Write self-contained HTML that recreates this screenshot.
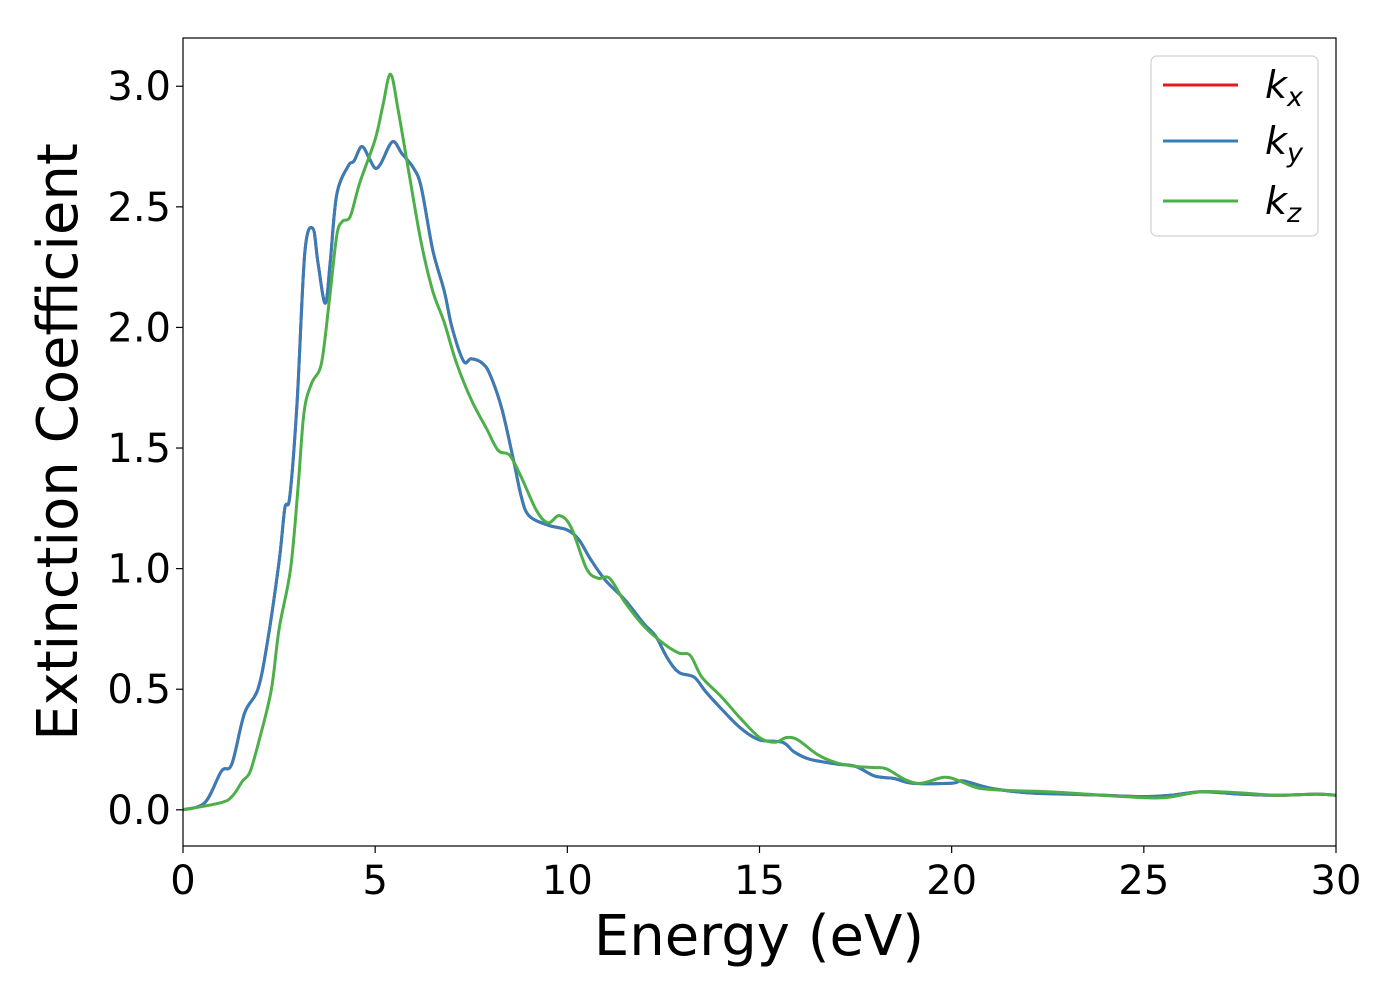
<!DOCTYPE html>
<html><head><meta charset="utf-8"><style>
html,body{margin:0;padding:0;background:#fff;}
svg{display:block;font-family:"DejaVu Sans","Liberation Sans",sans-serif;}
</style></head><body>
<svg id="chart" width="1400" height="1000" viewBox="0 0 1400 1000" xmlns="http://www.w3.org/2000/svg">
<rect width="1400" height="1000" fill="#fff"/>
<g id="series"></g>
<rect x="183" y="38" width="1153" height="808" fill="none" stroke="#000" stroke-width="1.2"/>
<g id="xticks"></g>
<g id="yticks"></g>
<text x="759" y="955" font-size="56" text-anchor="middle">Energy (eV)</text>
<text transform="translate(77,442) rotate(-90)" font-size="56" text-anchor="middle">Extinction Coefficient</text>
<g>
<rect x="1151" y="56" width="167" height="180" rx="6" fill="#fff" fill-opacity="0.8" stroke="#d0d0d0" stroke-width="1.2"/>
<line x1="1163" y1="85" x2="1238" y2="85" stroke="#e41a1c" stroke-width="3"/>
<text x="1265" y="98" font-size="38" font-style="italic">k<tspan font-size="27" dy="8">x</tspan></text>
<line x1="1163" y1="141" x2="1238" y2="141" stroke="#377eb8" stroke-width="3"/>
<text x="1265" y="154" font-size="38" font-style="italic">k<tspan font-size="27" dy="8">y</tspan></text>
<line x1="1163" y1="201" x2="1238" y2="201" stroke="#4daf4a" stroke-width="3"/>
<text x="1265" y="214" font-size="38" font-style="italic">k<tspan font-size="27" dy="8">z</tspan></text>
</g>
</svg>
<script>
const xTicks=[0,5,10,15,20,25,30];
const yTicks=[0.0,0.5,1.0,1.5,2.0,2.5,3.0];
const energyXY=[0,0.57,1.0,1.27,1.6,1.95,2.2,2.5,2.65,2.78,2.97,3.17,3.38,3.51,3.7,3.83,4.0,4.3,4.45,4.65,4.85,5.0,5.15,5.45,5.7,6.0,6.2,6.5,6.8,7.0,7.3,7.5,7.8,8.0,8.3,8.6,8.8,9.0,9.5,10.0,10.3,10.6,11.0,11.5,12.0,12.3,12.6,12.9,13.3,13.6,14.0,14.5,15.0,15.6,15.9,16.3,17.0,17.5,18.0,18.5,19.0,20.0,20.3,21.0,22,23,24,25,25.7,26.5,27.5,28.5,29.5,30];
const kxValues=[0,0.03,0.16,0.19,0.40,0.5,0.7,1.03,1.25,1.30,1.69,2.31,2.41,2.27,2.1,2.27,2.55,2.67,2.69,2.75,2.70,2.66,2.68,2.77,2.72,2.66,2.58,2.32,2.15,2.0,1.86,1.87,1.85,1.80,1.66,1.45,1.30,1.22,1.18,1.16,1.12,1.04,0.95,0.87,0.77,0.72,0.63,0.57,0.55,0.49,0.42,0.34,0.29,0.28,0.24,0.21,0.19,0.18,0.14,0.13,0.11,0.11,0.12,0.09,0.07,0.065,0.06,0.055,0.06,0.075,0.065,0.06,0.065,0.06];
const kyValues=kxValues.slice();
const energyZ=[0,1.0,1.3,1.55,1.75,2.0,2.3,2.5,2.8,3.0,3.15,3.35,3.6,3.8,4.0,4.15,4.35,4.6,5.0,5.2,5.4,5.6,5.9,6.2,6.5,6.8,7.1,7.5,7.9,8.2,8.5,8.8,9.2,9.5,9.8,10.1,10.5,10.8,11.1,11.5,12.0,12.5,12.9,13.2,13.5,14.0,14.5,15.0,15.4,15.7,16.0,16.5,17.0,17.5,18.0,18.3,18.8,19.2,19.8,20.2,20.7,21.5,22.5,23.5,24.5,25.5,26.5,27.5,28.5,29.5,30];
const kzValues=[0,0.03,0.06,0.12,0.16,0.3,0.5,0.75,1.0,1.35,1.65,1.77,1.85,2.1,2.38,2.44,2.46,2.6,2.78,2.92,3.05,2.9,2.62,2.35,2.15,2.02,1.86,1.70,1.58,1.49,1.47,1.38,1.24,1.19,1.22,1.17,1.00,0.96,0.96,0.86,0.76,0.69,0.65,0.64,0.55,0.47,0.38,0.30,0.28,0.30,0.29,0.23,0.195,0.18,0.175,0.17,0.125,0.11,0.135,0.12,0.09,0.08,0.075,0.065,0.055,0.05,0.075,0.07,0.06,0.065,0.06];

const X0=183,X1=1336,Y0=846,Y1=38,xmin=0,xmax=30,ymin=-0.15,ymax=3.2;
function xs(v){return X0+(v-xmin)/(xmax-xmin)*(X1-X0);}
function ys(v){return Y0-(v-ymin)/(ymax-ymin)*(Y0-Y1);}
const NS="http://www.w3.org/2000/svg";
function smoothPath(xa,ya){
  const p=xa.map((x,i)=>[xs(x),ys(ya[i])]);
  let d="M"+p[0][0].toFixed(1)+","+p[0][1].toFixed(1);
  for(let i=0;i<p.length-1;i++){
    const a=p[Math.max(0,i-1)],b=p[i],c=p[i+1],e=p[Math.min(p.length-1,i+2)];
    const c1=[b[0]+(c[0]-a[0])/6,b[1]+(c[1]-a[1])/6],c2=[c[0]-(e[0]-b[0])/6,c[1]-(e[1]-b[1])/6];
    d+=" C"+c1[0].toFixed(1)+","+c1[1].toFixed(1)+" "+c2[0].toFixed(1)+","+c2[1].toFixed(1)+" "+c[0].toFixed(1)+","+c[1].toFixed(1);
  }
  return d;
}
const sg=document.getElementById("series");
const clip=document.createElementNS(NS,"clipPath");clip.setAttribute("id","pc");
const cr=document.createElementNS(NS,"rect");cr.setAttribute("x",X0);cr.setAttribute("y",Y1);cr.setAttribute("width",X1-X0);cr.setAttribute("height",Y0-Y1);
clip.appendChild(cr);sg.appendChild(clip);
function addLine(xa,ya,color,name){
  const p=document.createElementNS(NS,"path");
  
  
  p.setAttribute("d",smoothPath(xa,ya));p.setAttribute("fill","none");p.setAttribute("stroke",color);
  p.setAttribute("stroke-width","3");p.setAttribute("stroke-linejoin","round");p.setAttribute("clip-path","url(#pc)");
  sg.appendChild(p);
}
addLine(energyXY,kxValues,"#e41a1c","kx-line");
addLine(energyXY,kyValues,"#377eb8","ky-line");
addLine(energyZ,kzValues,"#4daf4a","kz-line");
const xg=document.getElementById("xticks");
xTicks.forEach(t=>{
  const l=document.createElementNS(NS,"line");
  
  
  l.setAttribute("x1",xs(t));l.setAttribute("x2",xs(t));l.setAttribute("y1",Y0);l.setAttribute("y2",Y0+7);l.setAttribute("stroke","#000");l.setAttribute("stroke-width","1.2");xg.appendChild(l);
  const tx=document.createElementNS(NS,"text");
  
  
  tx.setAttribute("x",xs(t));tx.setAttribute("y",Y0+48);tx.setAttribute("font-size","40");tx.setAttribute("text-anchor","middle");tx.textContent=t;xg.appendChild(tx);
});
const yg=document.getElementById("yticks");
yTicks.forEach(t=>{
  const l=document.createElementNS(NS,"line");
  
  
  l.setAttribute("x1",X0-7);l.setAttribute("x2",X0);l.setAttribute("y1",ys(t));l.setAttribute("y2",ys(t));l.setAttribute("stroke","#000");l.setAttribute("stroke-width","1.2");yg.appendChild(l);
  const tx=document.createElementNS(NS,"text");
  
  
  tx.setAttribute("x",X0-12);tx.setAttribute("y",ys(t)+14);tx.setAttribute("font-size","40");tx.setAttribute("text-anchor","end");tx.textContent=t.toFixed(1);yg.appendChild(tx);
});
</script>
</body></html>
